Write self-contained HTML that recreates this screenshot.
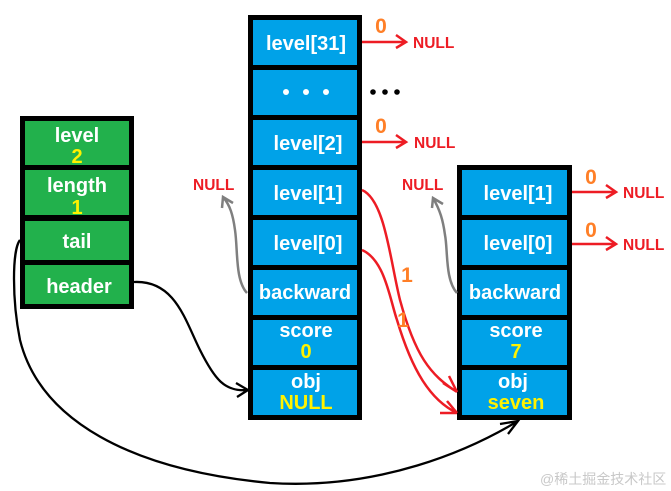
<!DOCTYPE html>
<html><head><meta charset="utf-8"><style>
html,body{margin:0;padding:0;background:#fff;}
svg{display:block;}
text{font-family:"Liberation Sans","DejaVu Sans",sans-serif;font-weight:bold;}
.w{fill:#fff;font-size:20px;text-anchor:middle;}
.y{fill:#fff200;font-size:20px;text-anchor:middle;}
.o{fill:#ff7f27;font-size:21px;text-anchor:middle;}
.n{fill:#ed1c24;font-size:15.5px;}
</style></head><body>
<svg width="671" height="491" viewBox="0 0 671 491" xmlns="http://www.w3.org/2000/svg">
<rect x="20" y="116" width="114" height="193" fill="#000"/>
<rect x="25" y="121" width="104" height="44" fill="#22b14c"/>
<rect x="25" y="170" width="104" height="45" fill="#22b14c"/>
<rect x="25" y="221" width="104" height="39" fill="#22b14c"/>
<rect x="25" y="265" width="104" height="39" fill="#22b14c"/>
<text class="w" x="77" y="142">level</text><text class="y" x="77" y="163">2</text>
<text class="w" x="77" y="192">length</text><text class="y" x="77" y="214">1</text>
<text class="w" x="77" y="248">tail</text>
<text class="w" x="79" y="293">header</text>

<rect x="248" y="15" width="114" height="405" fill="#000"/>
<g fill="#00a2e8">
<rect x="253" y="20" width="104" height="45"/><rect x="253" y="70" width="104" height="45"/>
<rect x="253" y="120" width="104" height="45"/><rect x="253" y="170" width="104" height="45"/>
<rect x="253" y="220" width="104" height="45"/><rect x="253" y="270" width="104" height="45"/>
<rect x="253" y="320" width="104" height="45"/><rect x="253" y="370" width="104" height="45"/>
</g>
<text class="w" x="306" y="50">level[31]</text>
<circle cx="286" cy="92" r="3" fill="#fff"/><circle cx="306" cy="92" r="3" fill="#fff"/><circle cx="326" cy="92" r="3" fill="#fff"/>
<text class="w" x="308" y="150">level[2]</text>
<text class="w" x="308" y="200">level[1]</text>
<text class="w" x="308" y="250">level[0]</text>
<text class="w" x="305" y="299">backward</text>
<text class="w" x="306" y="337">score</text><text class="y" x="306" y="358">0</text>
<text class="w" x="306" y="388">obj</text><text class="y" x="306" y="409">NULL</text>

<rect x="457" y="165" width="115" height="255" fill="#000"/>
<g fill="#00a2e8">
<rect x="462" y="170" width="105" height="45"/><rect x="462" y="220" width="105" height="45"/>
<rect x="462" y="270" width="105" height="45"/><rect x="462" y="320" width="105" height="45"/>
<rect x="462" y="370" width="105" height="45"/>
</g>
<text class="w" x="518" y="200">level[1]</text>
<text class="w" x="518" y="250">level[0]</text>
<text class="w" x="515" y="299">backward</text>
<text class="w" x="516" y="337">score</text><text class="y" x="516" y="358">7</text>
<text class="w" x="513" y="388">obj</text><text class="y" x="516" y="409">seven</text>

<circle cx="373" cy="92" r="2.8" fill="#000"/><circle cx="385" cy="92" r="2.8" fill="#000"/><circle cx="397" cy="92" r="2.8" fill="#000"/>

<g stroke="#ed1c24" stroke-width="2.5" fill="none">
<path d="M362 42 H406 M396 35 L406 42 L396 48"/>
<path d="M362 142 H406 M396 135 L406 142 L396 148"/>
<path d="M572 192 H616 M606 185 L616 192 L606 198"/>
<path d="M572 244 H616 M606 237 L616 244 L606 250"/>
<path d="M362 190 C385 200 390 260 400 300 C415 355 430 375 457 392 M443 383 L457 392 M449 376 L457 392"/>
<path d="M362 250 C385 260 390 300 397 320 C412 370 430 400 457 413 M440 413 L457 413 M447 401 L457 413"/>
</g>
<text class="o" x="381" y="33">0</text><text class="n" x="413" y="48">NULL</text>
<text class="o" x="381" y="133">0</text><text class="n" x="414" y="148">NULL</text>
<text class="o" x="591" y="184">0</text><text class="n" x="623" y="198">NULL</text>
<text class="o" x="591" y="237">0</text><text class="n" x="623" y="250">NULL</text>
<text class="o" x="407" y="282">1</text>
<text class="o" x="403" y="327">1</text>
<text class="n" x="193" y="190">NULL</text>
<text class="n" x="402" y="190">NULL</text>

<g stroke="#7f7f7f" stroke-width="2.5" fill="none">
<path d="M247 293 C235 280 238 250 235 230 C233 215 230 205 223 197 M222 208 L223 197 L233 203"/>
<path d="M457 293 C445 280 448 250 445 235 C443 220 440 210 433 198 M432 208 L433 198 L443 204"/>
</g>

<g stroke="#000" stroke-width="2.3" fill="none">
<path d="M134 282 C175 280 185 320 200 350 C215 380 225 392 248 390 M236 383 L248 390 L237 397"/>
<path d="M20 240 C12 250 12 300 20 340 C40 420 130 470 270 483 C380 490 470 450 518 421 M500 424 L518 421 L508 434"/>
</g>

<text x="540" y="484" style="fill:#c8c8c8;font-size:14px;font-weight:normal;font-family:'Liberation Sans','Noto Sans CJK SC',sans-serif">@稀土掘金技术社区</text>
</svg>
</body></html>
